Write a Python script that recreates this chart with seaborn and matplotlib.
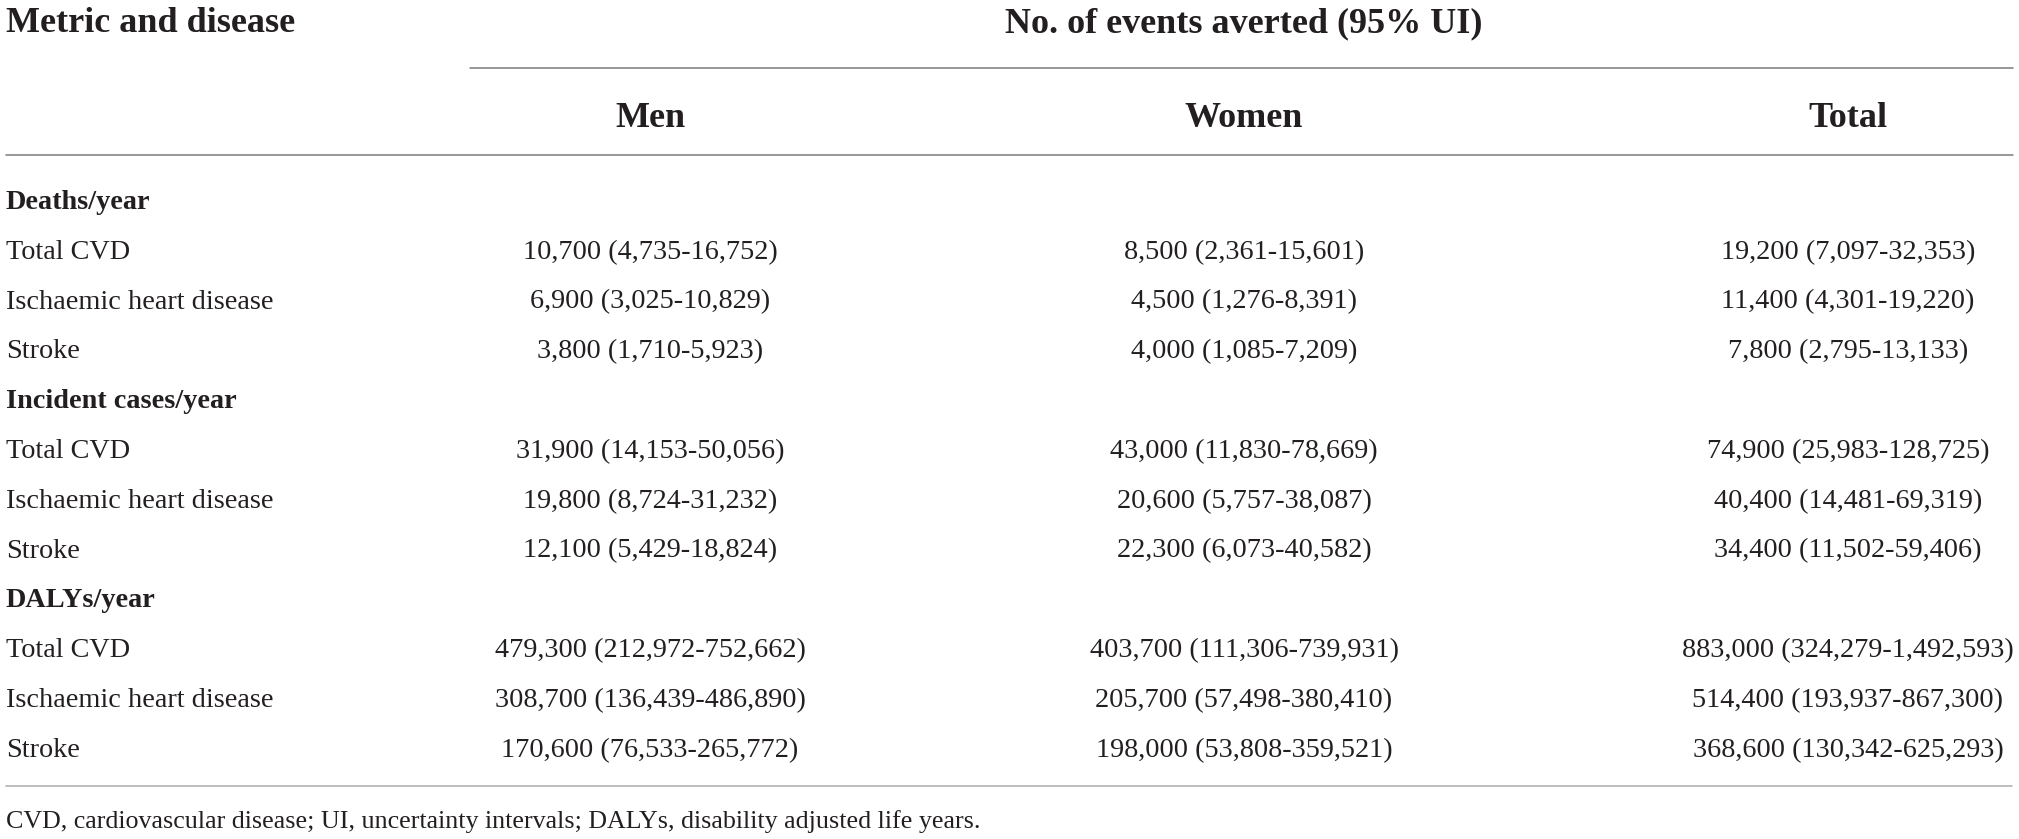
import matplotlib
matplotlib.use("Agg")
import matplotlib.pyplot as plt
import seaborn as sns
import pandas as pd

# table content
groups = ["Deaths/year", "Incident cases/year", "DALYs/year"]
diseases = ["Total CVD", "Ischaemic heart disease", "Stroke"]
columns = ["Men", "Women", "Total"]

men = [
    "10,700 (4,735-16,752)", "6,900 (3,025-10,829)", "3,800 (1,710-5,923)",
    "31,900 (14,153-50,056)", "19,800 (8,724-31,232)", "12,100 (5,429-18,824)",
    "479,300 (212,972-752,662)", "308,700 (136,439-486,890)", "170,600 (76,533-265,772)",
]
women = [
    "8,500 (2,361-15,601)", "4,500 (1,276-8,391)", "4,000 (1,085-7,209)",
    "43,000 (11,830-78,669)", "20,600 (5,757-38,087)", "22,300 (6,073-40,582)",
    "403,700 (111,306-739,931)", "205,700 (57,498-380,410)", "198,000 (53,808-359,521)",
]
total = [
    "19,200 (7,097-32,353)", "11,400 (4,301-19,220)", "7,800 (2,795-13,133)",
    "74,900 (25,983-128,725)", "40,400 (14,481-69,319)", "34,400 (11,502-59,406)",
    "883,000 (324,279-1,492,593)", "514,400 (193,937-867,300)", "368,600 (130,342-625,293)",
]

header_left = "Metric and disease"
header_group = "No. of events averted (95% UI)"
footnote = "CVD, cardiovascular disease; UI, uncertainty intervals; DALYs, disability adjusted life years."

df = pd.DataFrame({
    "group": [g for g in groups for _ in diseases],
    "disease": diseases * len(groups),
    "Men": men,
    "Women": women,
    "Total": total,
})

sns.set_theme(style="white")
plt.rcParams["font.family"] = ["Liberation Serif", "DejaVu Serif"]

W, H = 2019, 839
fig = plt.figure(figsize=(W / 100, H / 100), dpi=100)
ax = fig.add_axes([0, 0, 1, 1])
ax.set_xlim(0, W)
ax.set_ylim(H, 0)
ax.axis("off")

ink = "#231f20"
rule = "#7a7a7a"
col_x = {"Men": 650, "Women": 1244, "Total": 1848}
left_x = 6
head_size = 26
body_size = 20.3

# header
ax.text(left_x, 32, header_left, fontsize=head_size, fontweight="bold", color=ink, va="baseline")
ax.text(col_x["Women"], 32, header_group, fontsize=head_size, fontweight="bold", color=ink,
        va="baseline", ha="center")
ax.plot([470, 2013], [68, 68], color=rule, lw=1.1)
for c in columns:
    ax.text(col_x[c], 127, c, fontsize=head_size, fontweight="bold", color=ink, va="baseline", ha="center")
ax.plot([6, 2013], [155, 155], color=rule, lw=1.1)

# body
pitch = 49.8
y = 209
for g, sub in df.groupby("group", sort=False):
    ax.text(left_x, y, g, fontsize=body_size, fontweight="bold", color=ink, va="baseline")
    y += pitch
    for _, row in sub.iterrows():
        ax.text(left_x, y, row["disease"], fontsize=body_size, color=ink, va="baseline")
        for c in columns:
            ax.text(col_x[c], y, row[c], fontsize=body_size, color=ink, va="baseline", ha="center")
        y += pitch

ax.plot([6, 2012], [785.5, 785.5], color="#ababab", lw=1.1)
ax.text(left_x, 828, footnote, fontsize=18.7, color=ink, va="baseline")

fig.savefig("out.png", dpi=100, facecolor="white")
